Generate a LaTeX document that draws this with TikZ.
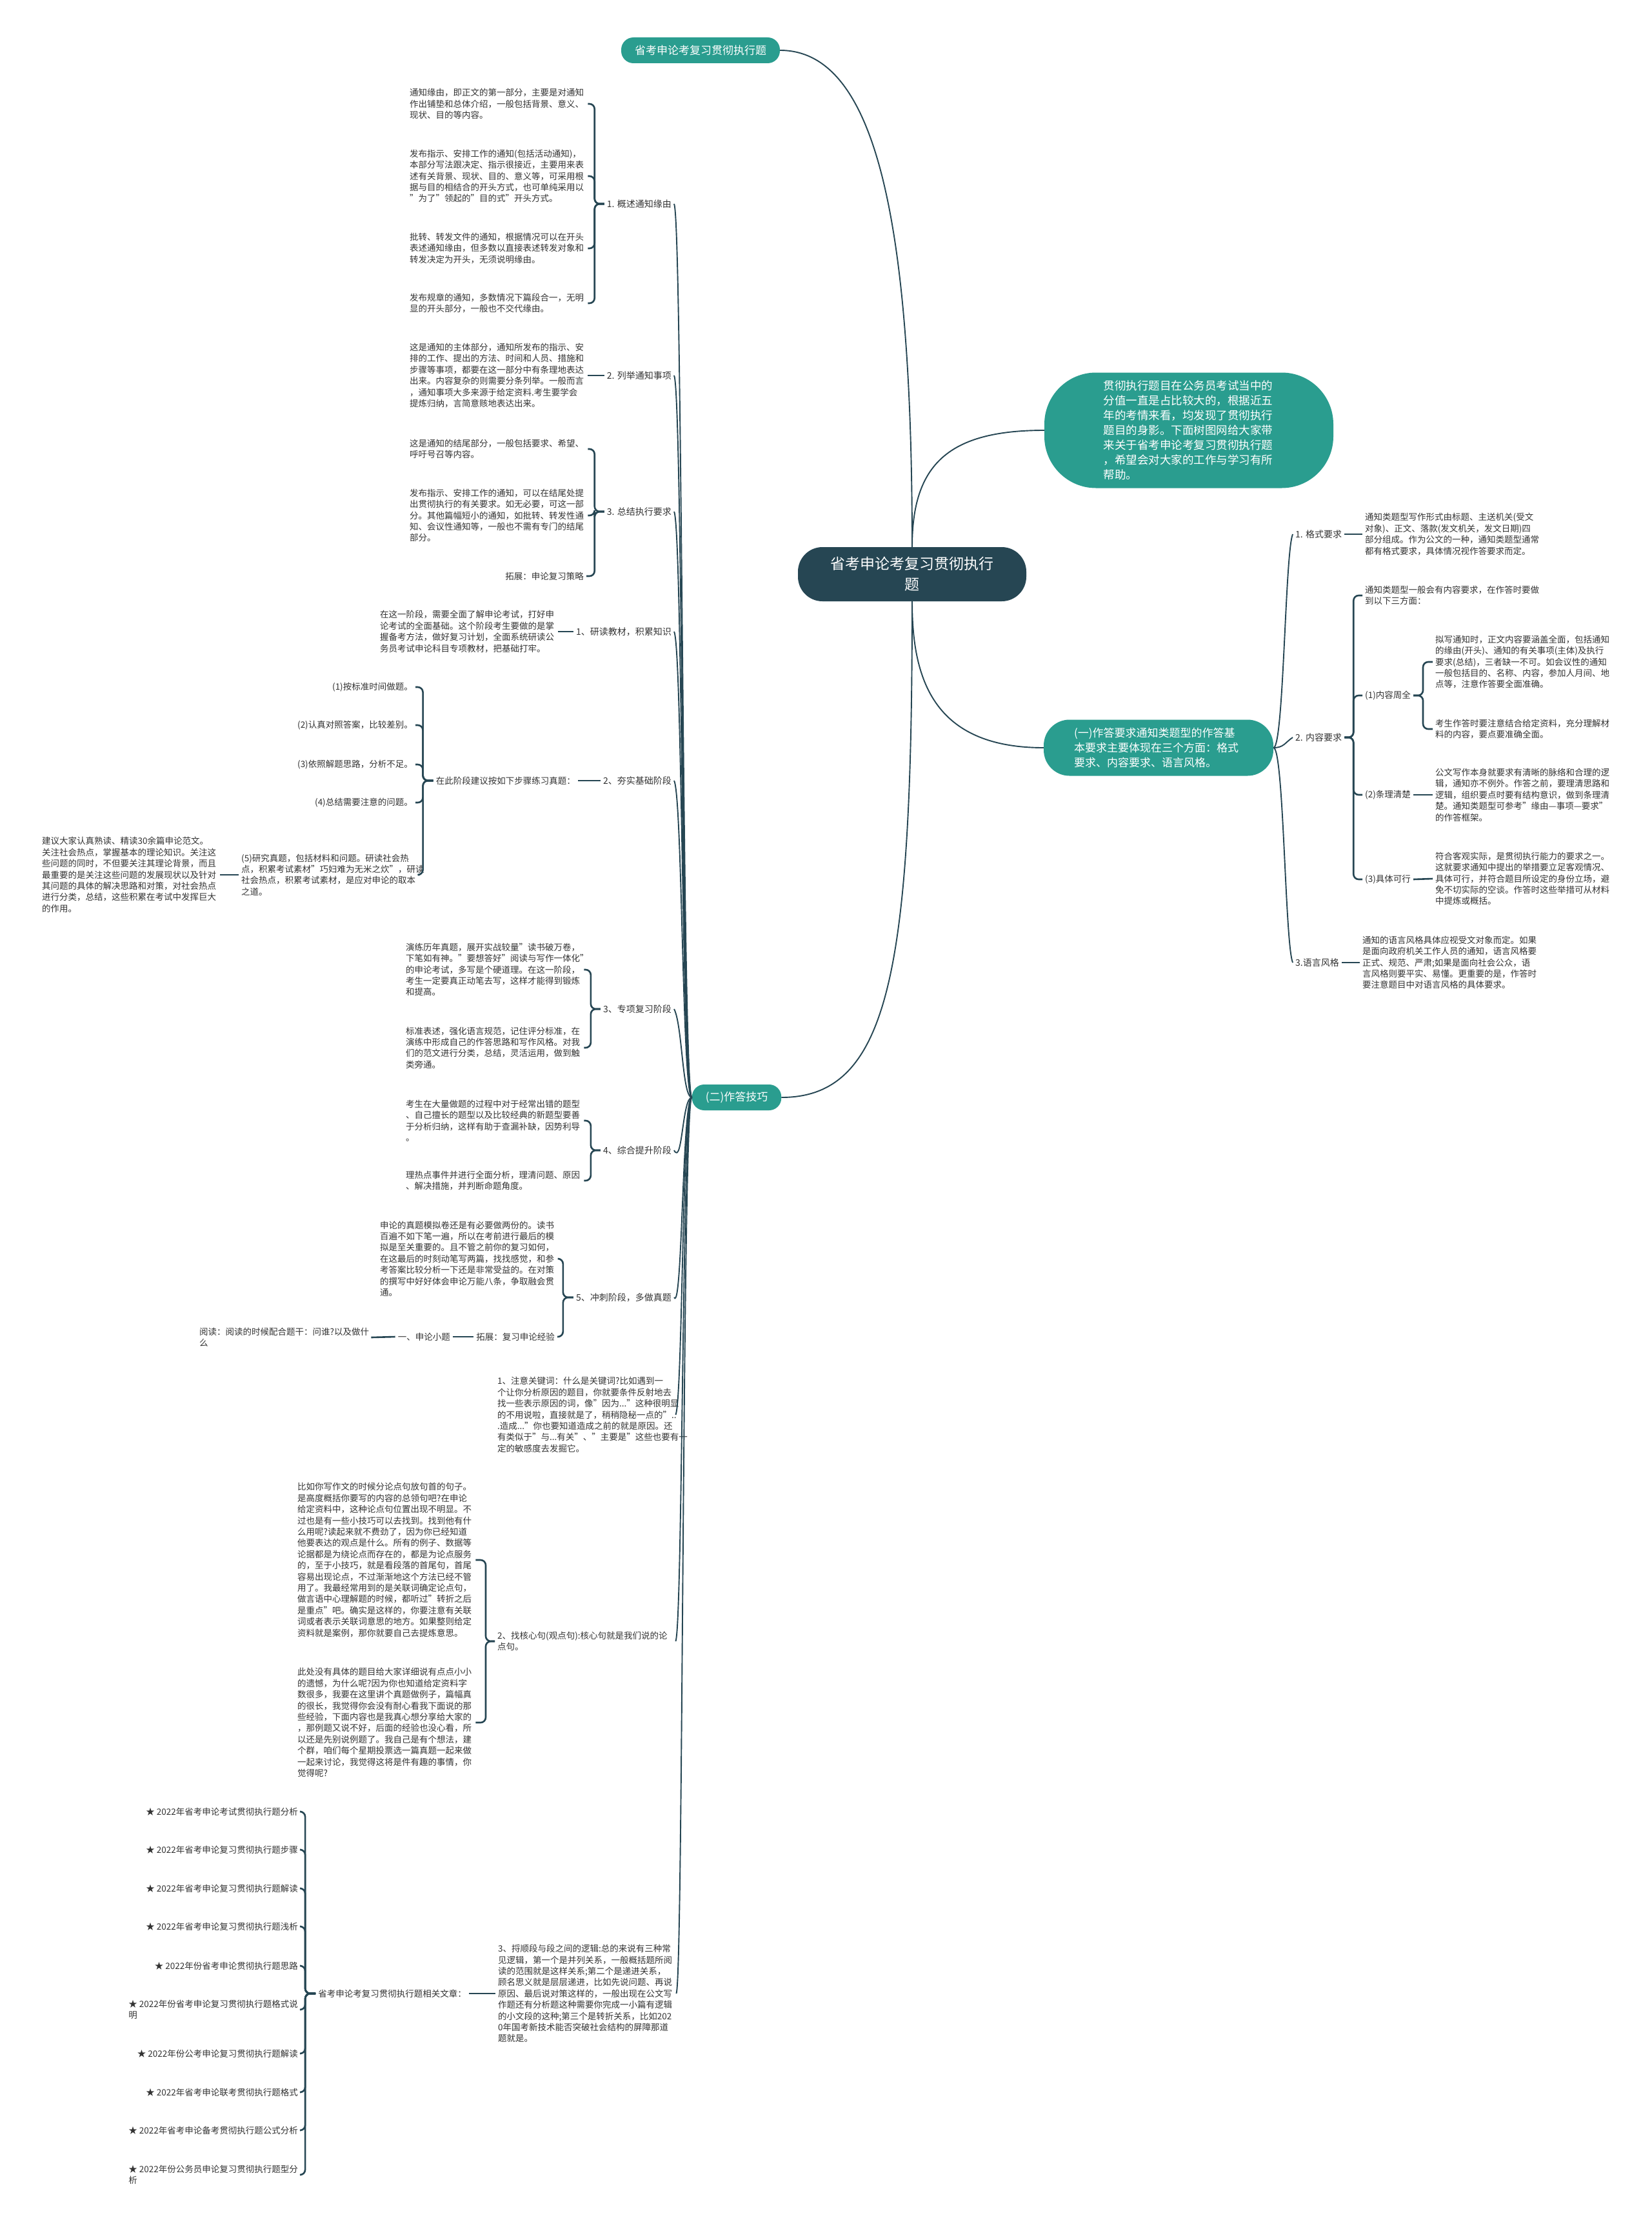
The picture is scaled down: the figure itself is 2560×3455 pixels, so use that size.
\documentclass[tikz,border=0pt]{standalone}
\usepackage{fontspec}
\setmainfont{Noto Sans CJK SC}
\usetikzlibrary{positioning}
\definecolor{deep}{HTML}{264653}
\definecolor{jade}{HTML}{2A9D8F}
\definecolor{ink}{HTML}{333333}
\tikzset{
    trunk/.style={draw=deep, line width=1.9pt},
    brk/.style={draw=deep, line width=2.6pt, rounded corners=8pt},
    lbl/.style={inner sep=4pt, text=ink, font=\fontsize{14}{17.4}\selectfont},
    leaf/.style={inner sep=4pt, text=ink, font=\fontsize{13.5}{17.4}\selectfont},
    para/.style={leaf, text width=272pt, align=left, anchor=west},
    hubnode/.style={fill=deep, text=white, align=center, minimum width=354pt, minimum height=84pt,
        rounded corners=38pt, font=\fontsize{23}{32}\selectfont},
    topic/.style={fill=jade, text=white, inner xsep=21pt, minimum height=40pt,
        rounded corners=19pt, font=\fontsize{17}{23}\selectfont}
}
\begin{document}
\begin{tikzpicture}[x=1pt, y=-1pt]
        \path[use as bounding box, fill=white] (0,0) rectangle (2560,3455);

        % centre and first level
        \node[hubnode] (hub) at (1414,890) {省考申论考复习贯彻执行\\题};
        \node[topic] (t1) at (1086,78) {省考申论考复习贯彻执行题};
        \node[topic, minimum width=448pt, minimum height=179pt, rounded corners=80pt,
            text width=265pt, align=left, font=\fontsize{17.5}{23}\selectfont] (intro) at (1843,667)
            {贯彻执行题目在公务员考试当中的\\分值一直是占比较大的，根据近五\\年的考情来看，均发现了贯彻执行\\题目的身影。下面树图网给大家带\\来关于省考申论考复习贯彻执行题\\，希望会对大家的工作与学习有所\\帮助。};
        \node[topic, minimum width=356pt, minimum height=87pt, rounded corners=40pt,
            text width=262pt, align=left] (yi) at (1796,1159)
            {(一)作答要求通知类题型的作答基\\本要求主要体现在三个方面：格式\\要求、内容要求、语言风格。};
        \node[topic] (er) at (1142,1701) {(二)作答技巧};

        \draw[trunk] (hub.north) .. controls (1414,350) and (1360,78) .. (t1.east);
        \draw[trunk] (hub.north) .. controls (1414,720) and (1470,667) .. (intro.west);
        \draw[trunk] (hub.south) .. controls (1414,1050) and (1445,1159) .. (yi.west);
        \draw[trunk] (hub.south) .. controls (1414,1500) and (1380,1701) .. (er.east);

        % (二) left side labels
        \node[lbl, anchor=east] (gs) at (1045,316) {1. 概述通知缘由};
        \node[lbl, anchor=east] (lj) at (1045,582) {2. 列举通知事项};
        \node[lbl, anchor=east] (zj) at (1045,793) {3. 总结执行要求};
        \node[lbl, anchor=east] (yd) at (1045,979) {1、研读教材，积累知识};
        \node[lbl, anchor=east] (hs) at (1045,1210) {2、夯实基础阶段};
        \node[lbl, anchor=east] (zx) at (1045,1564) {3、专项复习阶段};
        \node[lbl, anchor=east] (zh) at (1045,1783) {4、综合提升阶段};
        \node[lbl, anchor=east] (cc) at (1045,2011) {5、冲刺阶段，多做真题};
        \node[para] (k1) at (767,2193) {1、注意关键词：什么是关键词?比如遇到一\\个让你分析原因的题目，你就要条件反射地去\\找一些表示原因的词，像"因为..."这种很明显\\的不用说啦，直接就是了，稍稍隐秘一点的"..\\.造成..."你也要知道造成之前的就是原因。还\\有类似于"与...有关"、"主要是"这些也要有一\\定的敏感度去发掘它。};
        \node[para] (k2) at (767,2544) {2、找核心句(观点句):核心句就是我们说的论\\点句。};
        \node[para] (k3) at (768,3090) {3、捋顺段与段之间的逻辑:总的来说有三种常\\见逻辑，第一个是并列关系，一般概括题所阅\\读的范围就是这样关系;第二个是递进关系，\\顾名思义就是层层递进，比如先说问题、再说\\原因、最后说对策这样的，一般出现在公文写\\作题还有分析题这种需要你完成一小篇有逻辑\\的小文段的这种;第三个是转折关系，比如202\\0年国考新技术能否突破社会结构的屏障那道\\题就是。};

        \foreach \n in {gs,lj,zj,yd,hs,zx,zh,cc}
            \draw[trunk] (er.west) .. controls +(-15,0) and +(13,25) .. (\n.east);
        \foreach \n in {k1,k2,k3}
            \draw[trunk] (er.west) .. controls +(-15,0) and +(11,-25) .. (\n.east);

        % 1. 概述通知缘由
        \node[para] (gs1) at (631,161) {通知缘由，即正文的第一部分，主要是对通知\\作出铺垫和总体介绍，一般包括背景、意义、\\现状、目的等内容。};
        \node[para] (gs2) at (631,273) {发布指示、安排工作的通知(包括活动通知)，\\本部分写法跟决定、指示很接近，主要用来表\\述有关背景、现状、目的、意义等，可采用根\\据与目的相结合的开头方式，也可单纯采用以\\"为了"领起的"目的式"开头方式。};
        \node[para] (gs3) at (631,385) {批转、转发文件的通知，根据情况可以在开头\\表述通知缘由，但多数以直接表述转发对象和\\转发决定为开头，无须说明缘由。};
        \node[para] (gs4) at (631,470) {发布规章的通知，多数情况下篇段合一，无明\\显的开头部分，一般也不交代缘由。};
        \foreach \c in {gs1,gs2,gs3,gs4}
            \draw[brk] (gs.west) -- ++(-15,0) |- (\c.east);

        % 2. 列举通知事项
        \node[para] (lj1) at (631,582) {这是通知的主体部分，通知所发布的指示、安\\排的工作、提出的方法、时间和人员、措施和\\步骤等事项，都要在这一部分中有条理地表达\\出来。内容复杂的则需要分条列举。一般而言\\，通知事项大多来源于给定资料.考生要学会\\提炼归纳，言简意赅地表达出来。};
        \draw[brk] (lj.west) -- (lj1.east);

        % 3. 总结执行要求
        \node[para] (zj1) at (631,696) {这是通知的结尾部分，一般包括要求、希望、\\呼吁号召等内容。};
        \node[para] (zj2) at (631,799) {发布指示、安排工作的通知，可以在结尾处提\\出贯彻执行的有关要求。如无必要，可这一部\\分。其他篇幅短小的通知，如批转、转发性通\\知、会议性通知等，一般也不需有专门的结尾\\部分。};
        \node[leaf, anchor=east] (zj3) at (909,893) {拓展：申论复习策略};
        \foreach \c in {zj1,zj2,zj3}
            \draw[brk] (zj.west) -- ++(-15,0) |- (\c.east);

        % 1、研读教材
        \node[para] (yd1) at (585,979) {在这一阶段，需要全面了解申论考试，打好申\\论考试的全面基础。这个阶段考生要做的是掌\\握备考方法，做好复习计划，全面系统研读公\\务员考试申论科目专项教材，把基础打牢。};
        \draw[brk] (yd.west) -- (yd1.east);

        % 2、夯实基础阶段
        \node[leaf, anchor=east] (hs1) at (896,1210) {在此阶段建议按如下步骤练习真题：};
        \draw[brk] (hs.west) -- (hs1.east);
        \foreach \y/\t [count=\i] in {1065/{(1)按标准时间做题。}, 1124/{(2)认真对照答案，比较差别。},
                1185/{(3)依照解题思路，分析不足。}, 1244/{(4)总结需要注意的问题。}}
            \node[leaf, anchor=east] (h\i) at (644,\y) {\t};
        \node[para] (h5) at (370,1356) {(5)研究真题，包括材料和问题。研读社会热\\点，积累考试素材"巧妇难为无米之炊"，研读\\社会热点，积累考试素材，是应对申论的取本\\之道。};
        \foreach \c in {h1,h2,h3,h4,h5}
            \draw[brk] (hs1.west) -- ++(-16,0) |- (\c.east);
        \node[para] (h5a) at (61,1356) {建议大家认真熟读、精读30余篇申论范文。\\关注社会热点，掌握基本的理论知识。关注这\\些问题的同时，不但要关注其理论背景，而且\\最重要的是关注这些问题的发展现状以及针对\\其问题的具体的解决思路和对策，对社会热点\\进行分类，总结，这些积累在考试中发挥巨大\\的作用。};
        \draw[brk] (h5.west) -- (h5a.east);

        % 3、专项复习阶段 and 4、综合提升阶段
        \node[para] (zx1) at (625,1503) {演练历年真题，展开实战较量"读书破万卷，\\下笔如有神。"要想答好"阅读与写作一体化"\\的申论考试，多写是个硬道理。在这一阶段，\\考生一定要真正动笔去写，这样才能得到锻炼\\和提高。};
        \node[para] (zx2) at (625,1624) {标准表述，强化语言规范，记住评分标准，在\\演练中形成自己的作答思路和写作风格。对我\\们的范文进行分类，总结，灵活运用，做到触\\类旁通。};
        \node[para] (zh1) at (625,1737) {考生在大量做题的过程中对于经常出错的题型\\、自己擅长的题型以及比较经典的新题型要善\\于分析归纳，这样有助于查漏补缺，因势利导\\。};
        \node[para] (zh2) at (625,1830) {理热点事件并进行全面分析，理清问题、原因\\、解决措施，并判断命题角度。};
        \foreach \c in {zx1,zx2}
            \draw[brk] (zx.west) -- ++(-15,0) |- (\c.east);
        \foreach \c in {zh1,zh2}
            \draw[brk] (zh.west) -- ++(-15,0) |- (\c.east);

        % 5、冲刺阶段
        \node[para] (cc1) at (585,1951) {申论的真题模拟卷还是有必要做两份的。读书\\百遍不如下笔一遍，所以在考前进行最后的模\\拟是至关重要的。且不管之前你的复习如何，\\在这最后的时刻动笔写两篇，找找感觉，和参\\考答案比较分析一下还是非常受益的。在对策\\的撰写中好好体会申论万能八条，争取融会贯\\通。};
        \node[leaf, anchor=east] (cc2) at (864,2072) {拓展：复习申论经验};
        \foreach \c in {cc1,cc2}
            \draw[brk] (cc.west) -- ++(-16,0) |- (\c.east);
        \node[leaf, anchor=east] (xt) at (702,2072) {一、申论小题};
        \node[para, text width=262pt] (rd) at (305,2073) {阅读：阅读的时候配合题干：问谁?以及做什\\么};
        \draw[brk] (cc2.west) -- (xt.east);
        \draw[brk] (xt.west) -- (rd.east);

        % 2、找核心句
        \node[para] (k2a) at (457,2418) {比如你写作文的时候分论点句放句首的句子。\\是高度概括你要写的内容的总领句吧?在申论\\给定资料中，这种论点句位置出现不明显。不\\过也是有一些小技巧可以去找到。找到他有什\\么用呢?读起来就不费劲了，因为你已经知道\\他要表达的观点是什么。所有的例子、数据等\\论据都是为绕论点而存在的，都是为论点服务\\的，至于小技巧，就是看段落的首尾句，首尾\\容易出现论点，不过渐渐地这个方法已经不管\\用了。我最经常用到的是关联词确定论点句，\\做言语中心理解题的时候，都听过"转折之后\\是重点"吧。确实是这样的，你要注意有关联\\词或者表示关联词意思的地方。如果整则给定\\资料就是案例，那你就要自己去提炼意思。};
        \node[para] (k2b) at (457,2670) {此处没有具体的题目给大家详细说有点点小小\\的遗憾，为什么呢?因为你也知道给定资料字\\数很多，我要在这里讲个真题做例子，篇幅真\\的很长，我觉得你会没有耐心看我下面说的那\\些经验，下面内容也是我真心想分享给大家的\\，那例题又说不好，后面的经验也没心看，所\\以还是先别说例题了。我自己是有个想法，建\\个群，咱们每个星期投票选一篇真题一起来做\\一起来讨论，我觉得这将是件有趣的事情，你\\觉得呢?};
        \foreach \c in {k2a,k2b}
            \draw[brk] (k2.west) -- ++(-14,0) |- (\c.east);

        % 3、捋顺段与段之间的逻辑
        \node[leaf, anchor=east] (ar) at (727,3090) {省考申论考复习贯彻执行题相关文章：};
        \draw[brk] (k3.west) -- (ar.east);
        \foreach \y/\t [count=\i] in {
                2808/{★ 2022年省考申论考试贯彻执行题分析},
                2867/{★ 2022年省考申论复习贯彻执行题步骤},
                2927/{★ 2022年省考申论复习贯彻执行题解读},
                2986/{★ 2022年省考申论复习贯彻执行题浅析},
                3047/{★ 2022年份省考申论贯彻执行题思路},
                3115/{★ 2022年份省考申论复习贯彻执行题格式说\\明},
                3183/{★ 2022年份公考申论复习贯彻执行题解读},
                3243/{★ 2022年省考申论联考贯彻执行题格式},
                3302/{★ 2022年省考申论备考贯彻执行题公式分析},
                3371/{★ 2022年份公务员申论复习贯彻执行题型分\\析}} {
            \node[leaf, anchor=east, align=left] (s\i) at (466,\y) {\t};
            \draw[brk] (ar.west) -- ++(-16,0) |- (s\i.east);
        }

        % (一) right side
        \node[lbl, anchor=west] (r1) at (2004,828) {1. 格式要求};
        \node[lbl, anchor=west] (r2) at (2004,1143) {2. 内容要求};
        \node[lbl, anchor=west] (r3) at (2004,1492) {3.语言风格};
        \draw[trunk] (yi.east) .. controls +(16,0) and +(-12,30) .. (r1.west);
        \draw[trunk] (yi.east) .. controls +(16,0) and +(-12,8) .. (r2.west);
        \draw[trunk] (yi.east) .. controls +(16,0) and +(-12,-30) .. (r3.west);

        \node[para] (r1a) at (2112,828) {通知类题型写作形式由标题、主送机关(受文\\对象)、正文、落款(发文机关，发文日期)四\\部分组成。作为公文的一种，通知类题型通常\\都有格式要求，具体情况视作答要求而定。};
        \draw[brk] (r1.east) -- (r1a.west);

        \node[para] (r2a) at (2112,923) {通知类题型一般会有内容要求，在作答时要做\\到以下三方面：};
        \node[leaf, anchor=west] (r2b) at (2112,1078) {(1)内容周全};
        \node[leaf, anchor=west] (r2c) at (2112,1232) {(2)条理清楚};
        \node[leaf, anchor=west] (r2d) at (2112,1363) {(3)具体可行};
        \foreach \c in {r2a,r2b,r2c,r2d}
            \draw[brk] (r2.east) -- ++(14,0) |- (\c.west);

        \node[para] (r2b1) at (2221,1026) {拟写通知时，正文内容要涵盖全面，包括通知\\的缘由(开头)、通知的有关事项(主体)及执行\\要求(总结)，三者缺一不可。如会议性的通知\\一般包括目的、名称、内容，参加人月间、地\\点等，注意作答要全面准确。};
        \node[para] (r2b2) at (2221,1130) {考生作答时要注意结合给定资料，充分理解材\\料的内容，要点要准确全面。};
        \foreach \c in {r2b1,r2b2}
            \draw[brk] (r2b.east) -- ++(15,0) |- (\c.west);
        \node[para] (r2c1) at (2221,1232) {公文写作本身就要求有清晰的脉络和合理的逻\\辑，通知亦不例外。作答之前，要理清思路和\\逻辑，组织要点时要有结构意识，做到条理清\\楚。通知类题型可参考"缘由—事项—要求"\\的作答框架。};
        \node[para] (r2d1) at (2221,1362) {符合客观实际，是贯彻执行能力的要求之一。\\这就要求通知中提出的举措要立足客观情况、\\具体可行，并符合题目所设定的身份立场，避\\免不切实际的空谈。作答时这些举措可从材料\\中提炼或概括。};
        \draw[brk] (r2c.east) -- (r2c1.west);
        \draw[brk] (r2d.east) -- (r2d1.west);

        \node[para] (r3a) at (2108,1492) {通知的语言风格具体应视受文对象而定。如果\\是面向政府机关工作人员的通知，语言风格要\\正式、规范、严肃;如果是面向社会公众，语\\言风格则要平实、易懂。更重要的是，作答时\\要注意题目中对语言风格的具体要求。};
        \draw[brk] (r3.east) -- (r3a.west);

\end{tikzpicture}
\end{document}
